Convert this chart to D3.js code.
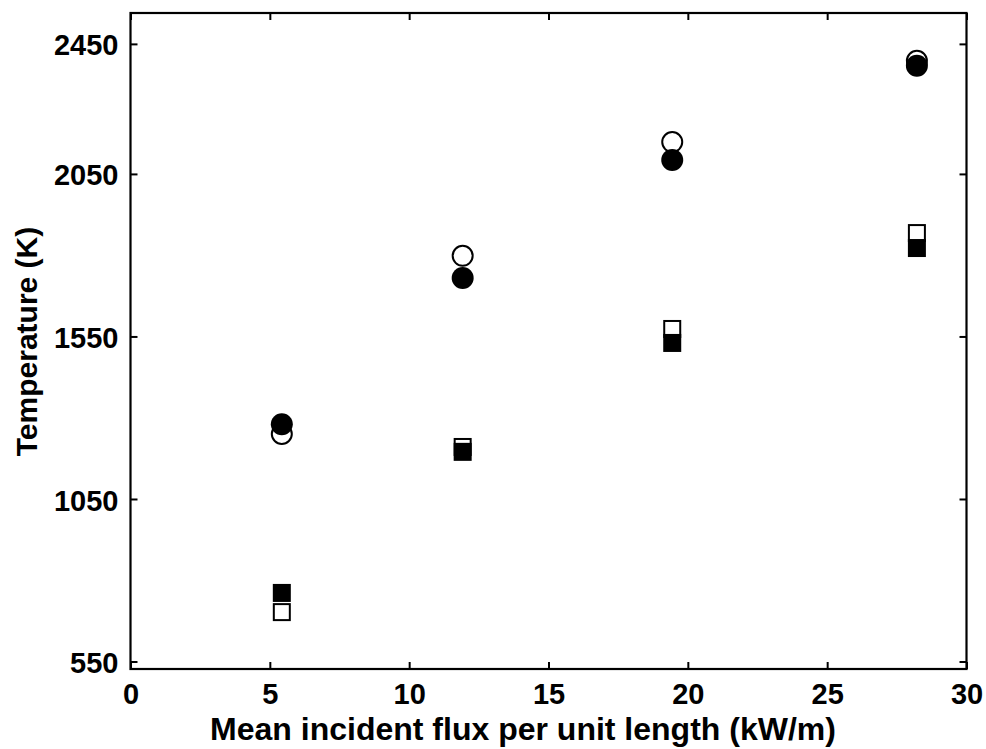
<!DOCTYPE html>
<html><head><meta charset="utf-8">
<script src="https://cdn.jsdelivr.net/npm/d3@7"></script>
<style>body{margin:0;background:#fff}svg{display:block}text{font-family:"Liberation Sans",Arial,sans-serif;font-weight:bold}</style>
</head><body><svg id="c" width="986" height="749"></svg>
<script>
const flux = [5.43, 11.92, 19.44, 28.22];
const openCircle = [1250, 1798, 2148, 2398];
const filledCircle = [1280, 1730, 2093, 2383];
const openSquare = [702, 1210, 1573, 1868];
const filledSquare = [761, 1195, 1530, 1822];
const xTicks = [0, 5, 10, 15, 20, 25, 30];
const yTicks = [550, 1050, 1550, 2050, 2450];

const m = {l:130.5, r:966.5, t:13, b:669};
const svg = d3.select('#c');
const x = d3.scaleLinear().domain([0,30]).range([m.l, m.r]);
const y = d3.scaleLinear().domain([527,2545]).range([m.b, m.t]);
const fmt = d3.format('d');

const tl = 7;
svg.append('g').attr('transform',`translate(0,${m.b})`).call(d3.axisBottom(x).tickValues(xTicks).tickFormat(fmt).tickSizeInner(-tl).tickSizeOuter(0).tickPadding(35))
  .call(g=>{g.select('.domain').remove();g.selectAll('line').attr('stroke-width',2);g.selectAll('text').attr('font-size',29).attr('dy','0').attr('fill','#000');});
svg.append('g').attr('transform',`translate(0,${m.t})`).call(d3.axisTop(x).tickValues(xTicks).tickSizeInner(-tl).tickSizeOuter(0).tickFormat(''))
  .call(g=>{g.select('.domain').remove();g.selectAll('line').attr('stroke-width',2);});
svg.append('g').attr('transform',`translate(${m.l},0)`).call(d3.axisLeft(y).tickValues(yTicks).tickFormat(fmt).tickSizeInner(-tl).tickSizeOuter(0).tickPadding(12))
  .call(g=>{g.select('.domain').remove();g.selectAll('line').attr('stroke-width',2);g.selectAll('text').attr('font-size',29).attr('dy','0.38em').attr('fill','#000');});
svg.append('g').attr('transform',`translate(${m.r},0)`).call(d3.axisRight(y).tickValues(yTicks).tickSizeInner(-tl).tickSizeOuter(0).tickFormat(''))
  .call(g=>{g.select('.domain').remove();g.selectAll('line').attr('stroke-width',2);});
svg.append('rect').attr('x',m.l).attr('y',m.t).attr('width',m.r-m.l).attr('height',m.b-m.t)
  .attr('fill','none').attr('stroke','#000').attr('stroke-width',2.2);

svg.append('text').attr('x',523).attr('y',740).attr('text-anchor','middle').attr('font-size',32)
  .text('Mean incident flux per unit length (kW/m)');
svg.append('text').attr('transform',`translate(37,341.5) rotate(-90)`).attr('text-anchor','middle').attr('font-size',30)
  .text('Temperature (K)');

const r = 11, s = 18;
const pts = (arr)=>flux.map((f,i)=>({f, v:arr[i]}));
svg.append('g').selectAll('circle').data(pts(openCircle)).join('circle')
  .attr('cx',d=>x(d.f)).attr('cy',d=>y(d.v)).attr('r',r-1).attr('fill','#fff').attr('stroke','#000').attr('stroke-width',2);
svg.append('g').selectAll('circle').data(pts(filledCircle)).join('circle')
  .attr('cx',d=>x(d.f)).attr('cy',d=>y(d.v)).attr('r',r).attr('fill','#000');
svg.append('g').selectAll('rect').data(pts(openSquare)).join('rect')
  .attr('x',d=>x(d.f)-s/2+1).attr('y',d=>y(d.v)-s/2+1).attr('width',s-2).attr('height',s-2)
  .attr('fill','#fff').attr('stroke','#000').attr('stroke-width',2);
svg.append('g').selectAll('rect').data(pts(filledSquare)).join('rect')
  .attr('x',d=>x(d.f)-s/2).attr('y',d=>y(d.v)-s/2).attr('width',s).attr('height',s).attr('fill','#000');
</script></body></html>
